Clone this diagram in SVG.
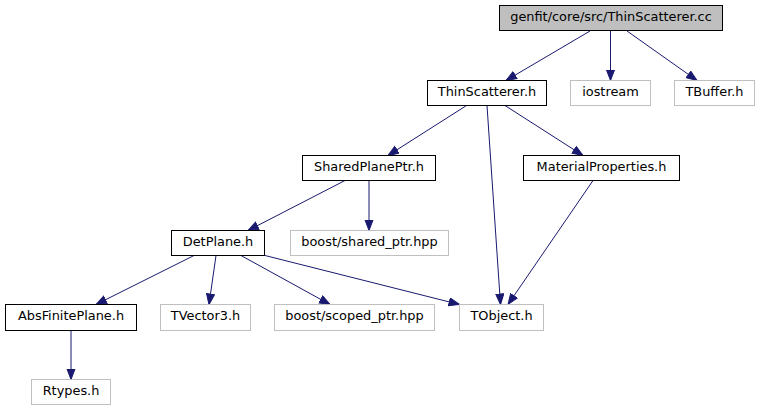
<svg xmlns="http://www.w3.org/2000/svg" width="760" height="411" viewBox="0 0 760 411">
<defs>
<style>
.n rect{fill:#ffffff;stroke:#000000;stroke-width:1}
.n.u rect{stroke:#bfbfbf}
.n.root rect{fill:#bfbfbf;stroke:#000000}
.n text{font-family:"DejaVu Sans",sans-serif;font-size:12.9px;text-anchor:middle;fill:#000000}
#edges line{stroke:#191970;stroke-width:1;marker-end:url(#ah)}
</style>
<marker id="ah" markerUnits="userSpaceOnUse" markerWidth="13" markerHeight="10" refX="11" refY="4.5" orient="auto">
<path d="M0.5,0.5 L11,4.5 L0.5,8.5 Z" fill="#191970" stroke="#191970" stroke-width="1"/>
</marker>
</defs>
<rect width="760" height="411" fill="#ffffff"/>
<g id="edges">
<line x1="590" y1="31" x2="506" y2="80.5"/>
<line x1="610.5" y1="31" x2="610.5" y2="80.5"/>
<line x1="627" y1="31" x2="697" y2="80.5"/>
<line x1="466.5" y1="105.5" x2="388" y2="155.5"/>
<line x1="505" y1="105.5" x2="583" y2="155.5"/>
<line x1="487" y1="105.5" x2="500.5" y2="304.5"/>
<line x1="593" y1="180.5" x2="508" y2="304.5"/>
<line x1="345" y1="180.5" x2="248" y2="230.5"/>
<line x1="369" y1="180.5" x2="369" y2="230.5"/>
<line x1="194" y1="255.5" x2="96" y2="304.5"/>
<line x1="216" y1="255.5" x2="209" y2="304.5"/>
<line x1="241" y1="255.5" x2="330" y2="304.5"/>
<line x1="265" y1="255.5" x2="459.5" y2="304.5"/>
<line x1="71" y1="330.5" x2="71" y2="379.5"/>
</g>
<g id="root" class="n root"><rect x="499.5" y="5.5" width="223" height="25"/><text x="611" y="21">genfit/core/src/ThinScatterer.cc</text></g>
<g id="thinscatterer_h" class="n"><rect x="427.5" y="80.5" width="119" height="25"/><text x="487" y="96">ThinScatterer.h</text></g>
<g id="iostream" class="n u"><rect x="570.5" y="80.5" width="80" height="25"/><text x="610.5" y="96">iostream</text></g>
<g id="tbuffer_h" class="n u"><rect x="674.5" y="80.5" width="80" height="25"/><text x="714.5" y="96">TBuffer.h</text></g>
<g id="sharedplaneptr_h" class="n"><rect x="302.5" y="155.5" width="133" height="25"/><text x="369" y="171">SharedPlanePtr.h</text></g>
<g id="materialproperties_h" class="n"><rect x="523.5" y="155.5" width="156" height="25"/><text x="601.5" y="171">MaterialProperties.h</text></g>
<g id="detplane_h" class="n"><rect x="171.5" y="230.5" width="93" height="25"/><text x="218" y="246">DetPlane.h</text></g>
<g id="boost_shared_ptr" class="n u"><rect x="290.5" y="230.5" width="158" height="25"/><text x="369.5" y="246">boost/shared_ptr.hpp</text></g>
<g id="absfiniteplane_h" class="n"><rect x="5.5" y="304.5" width="131" height="26"/><text x="71" y="320">AbsFinitePlane.h</text></g>
<g id="tvector3_h" class="n u"><rect x="160.5" y="304.5" width="90" height="26"/><text x="205.5" y="320">TVector3.h</text></g>
<g id="boost_scoped_ptr" class="n u"><rect x="274.5" y="304.5" width="160" height="26"/><text x="354.5" y="320">boost/scoped_ptr.hpp</text></g>
<g id="tobject_h" class="n u"><rect x="459.5" y="304.5" width="84" height="26"/><text x="501.5" y="320">TObject.h</text></g>
<g id="rtypes_h" class="n u"><rect x="31.5" y="379.5" width="79" height="25"/><text x="71" y="395">Rtypes.h</text></g>
</svg>
